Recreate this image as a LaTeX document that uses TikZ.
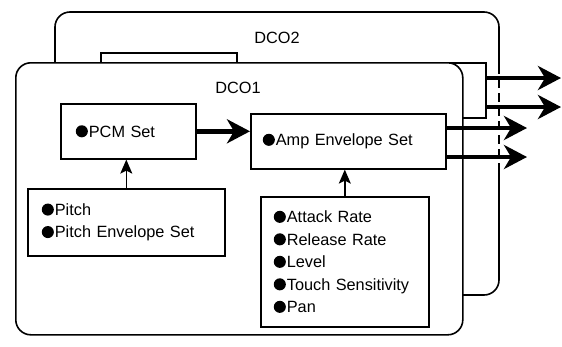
\documentclass[tikz,border=0pt]{standalone}
\usepackage{fontspec}
\setmainfont{Liberation Sans}
\usetikzlibrary{arrows.meta}

\tikzset{
    frame/.style={draw, line width=1.6pt},
    setbox/.style={frame, fill=white, anchor=north west, align=left, inner ysep=0pt,
        font=\fontsize{16.3}{22.5}\selectfont},
    dcotext/.style={font=\fontsize{16.3}{19}\selectfont},
    bigarrow/.style={line width=4.5pt, -{Stealth[length=23pt,width=24pt,inset=7pt]}},
    thinarrow/.style={line width=1.5pt, -{Stealth[length=14pt,width=12pt,inset=3pt]}}
}
\newcommand\blt{\tikz[baseline=0pt]\fill (0,0.35em) circle (0.37em);\hspace{1pt}}

\begin{document}
\begin{tikzpicture}[x=1pt,y=-1pt]
    \useasboundingbox (0,0) rectangle (562,346);

    % DCO2 (behind)
    \draw[frame, rounded corners=15pt] (55,62) -- (55,12) -- (499,12) -- (499,65);
    \draw[frame, dash pattern=on 9pt off 5pt] (499,65) -- (499,170);
    \draw[frame, rounded corners=15pt] (499,170) -- (499,295) -- (460,295);
    \node[dcotext] (dco2lbl) at (277,38) {DCO2};

    \node[setbox, minimum width=136pt, minimum height=55pt] (pcm2) at (100,52) {};
    \node[setbox, minimum width=195pt, minimum height=55pt] (amp2) at (290,62) {};

    \coordinate (out2a) at (561,78);
    \coordinate (out2b) at (561,107);
    \draw[bigarrow] (amp2.east |- out2a) -- (out2a);
    \draw[bigarrow] (amp2.east |- out2b) -- (out2b);

    % DCO1 (front)
    \node[frame, rounded corners=15pt, fill=white, anchor=north west, inner sep=0pt,
        minimum width=447pt, minimum height=272pt] (dco1) at (15,62) {};
    \node[dcotext] (dco1lbl) at (238,88) {DCO1};

    \node[setbox, inner xsep=15pt, text width=105pt, minimum width=135pt, minimum height=55pt]
        (pcm1) at (60,103) {\blt PCM Set};
    \node[setbox, inner xsep=12pt, text width=171pt, minimum width=195pt, minimum height=55pt]
        (amp1) at (250,113) {\blt Amp Envelope Set};
    \node[setbox, inner xsep=14pt, text width=169pt, minimum width=197pt, minimum height=67pt]
        (pitch) at (27,188) {\blt Pitch\\\blt Pitch Envelope Set};
    \node[setbox, inner xsep=13pt, text width=142pt, minimum width=168pt, minimum height=130pt]
        (params) at (260,196) {\blt Attack Rate\\\blt Release Rate\\\blt Level\\\blt Touch Sensitivity\\\blt Pan};

    \draw[bigarrow] (pcm1.east) -- (amp1.west |- pcm1.east);
    \draw[thinarrow] (pitch.north) -- (pitch.north |- pcm1.south);
    \draw[thinarrow] (params.north) -- (params.north |- amp1.south);

    \coordinate (out1a) at (527,128);
    \coordinate (out1b) at (527,157);
    \draw[bigarrow] (amp1.east |- out1a) -- (out1a);
    \draw[bigarrow] (amp1.east |- out1b) -- (out1b);
\end{tikzpicture}
\end{document}
